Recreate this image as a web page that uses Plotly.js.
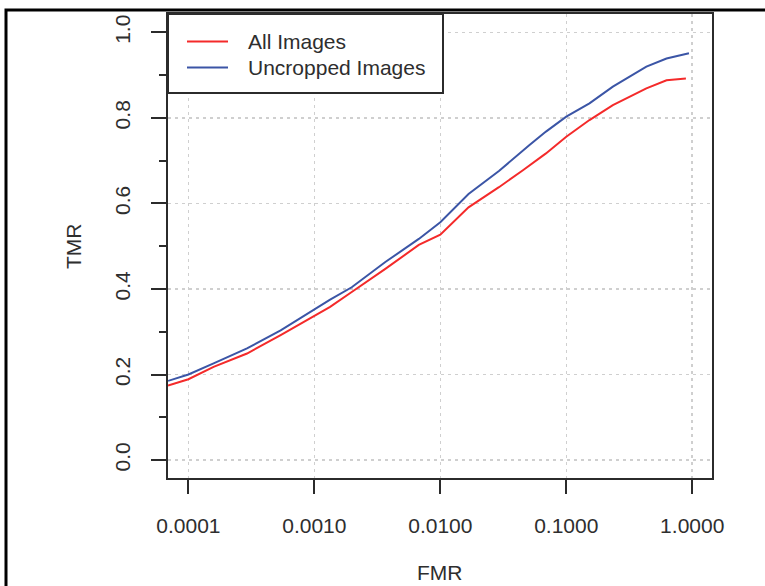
<!DOCTYPE html>
<html>
<head>
<meta charset="utf-8">
<script src="https://cdn.plot.ly/plotly-3.0.1.min.js"></script>
<style>html,body{margin:0;padding:0;background:#fff;}#chart{width:765px;height:586px;}</style>
</head>
<body>
<div id="chart"></div>
<script>
// FMR (x, log scale) and TMR (y) values
const fmrAll = [6.89e-5, 1e-4, 1.585e-4, 2.92e-4, 5.40e-4, 1e-3, 1.334e-3, 1.98e-3, 3.66e-3, 6.75e-3, 1e-2, 0.01675, 0.0292, 0.045, 0.069, 0.1, 0.1528, 0.2344, 0.4325, 0.625, 0.891];
const tmrAll = [0.174, 0.189, 0.218, 0.249, 0.292, 0.338, 0.358, 0.393, 0.447, 0.503, 0.527, 0.591, 0.638, 0.677, 0.717, 0.756, 0.795, 0.830, 0.869, 0.888, 0.892];
const fmrUncropped = [6.89e-5, 1e-4, 1.585e-4, 2.92e-4, 5.40e-4, 1e-3, 1.334e-3, 1.98e-3, 3.66e-3, 6.75e-3, 1e-2, 0.01675, 0.0292, 0.0508, 0.069, 0.1, 0.1528, 0.2344, 0.4325, 0.625, 0.942];
const tmrUncropped = [0.185, 0.200, 0.226, 0.261, 0.303, 0.352, 0.375, 0.404, 0.463, 0.517, 0.556, 0.622, 0.676, 0.736, 0.768, 0.803, 0.834, 0.873, 0.920, 0.939, 0.951];
const seriesNames = ["All Images", "Uncropped Images"];
const seriesColors = ["#f42a2a", "#3b55a6"];
const xTickVals = [1e-4, 1e-3, 1e-2, 1e-1, 1];
const xTickText = ["0.0001", "0.0010", "0.0100", "0.1000", "1.0000"];
const yTickVals = [0, 0.2, 0.4, 0.6, 0.8, 1.0];
const yTickText = ["0.0", "0.2", "0.4", "0.6", "0.8", "1.0"];

const font = {family: "Liberation Sans, Arial, sans-serif", size: 21, color: "#2e2e2e"};
const axisColor = "#2b2b2b";

const traces = [
  {x: fmrAll, y: tmrAll, name: seriesNames[0], type: "scatter", mode: "lines", line: {color: seriesColors[0], width: 2}, showlegend: false},
  {x: fmrUncropped, y: tmrUncropped, name: seriesNames[1], type: "scatter", mode: "lines", line: {color: seriesColors[1], width: 2}, showlegend: false}
];

// pixel helpers for paper-referenced decorations
const L = 168, R = 712, T = 14, B = 478;
const px = v => (v - L) / (R - L);
const py = v => (B - v) / (B - T);

const layout = {
  width: 765, height: 586,
  margin: {l: L, r: 765 - R, t: T, b: 586 - B},
  paper_bgcolor: "#fff", plot_bgcolor: "#fff",
  font: font,
  showlegend: false,
  xaxis: {
    type: "log", range: [-4.162, 0.157],
    tickvals: xTickVals, ticktext: xTickText,
    ticks: "outside", ticklen: 14, tickwidth: 2, tickcolor: axisColor,
    ticklabelstandoff: 14,
    showline: true, mirror: true, linecolor: axisColor, linewidth: 2,
    showgrid: true, gridcolor: "#cfcfcf", griddash: "3px,4px", gridwidth: 1.5,
    zeroline: false, tickfont: font
  },
  yaxis: {
    range: [-0.042, 1.043],
    tickvals: yTickVals, ticktext: yTickText, tickangle: -90,
    ticks: "outside", ticklen: 15, tickwidth: 2, tickcolor: axisColor,
    ticklabelstandoff: 13,
    minor: {tickvals: [0.1, 0.3, 0.5, 0.7, 0.9], ticks: "outside", ticklen: 7, tickwidth: 2, tickcolor: axisColor, showgrid: false},
    showline: true, mirror: true, linecolor: axisColor, linewidth: 2,
    showgrid: true, gridcolor: "#cfcfcf", griddash: "3px,4px", gridwidth: 1.5,
    zeroline: false, tickfont: font
  },
  shapes: [
    // outer frame
    {type: "rect", xref: "paper", yref: "paper", x0: px(6), x1: px(820), y0: py(640), y1: py(10), line: {color: "#000", width: 3}, layer: "above"},
    // legend box
    {type: "rect", xref: "paper", yref: "paper", x0: 0, x1: px(443), y0: py(93), y1: 1, fillcolor: "#fff", line: {color: axisColor, width: 2}, layer: "above"},
    {type: "line", xref: "paper", yref: "paper", x0: px(187), x1: px(228), y0: py(41.5), y1: py(41.5), line: {color: seriesColors[0], width: 2}, layer: "above"},
    {type: "line", xref: "paper", yref: "paper", x0: px(187), x1: px(228), y0: py(67.5), y1: py(67.5), line: {color: seriesColors[1], width: 2}, layer: "above"}
  ],
  annotations: [
    {xref: "paper", yref: "paper", x: px(246), y: py(41.5), text: seriesNames[0], showarrow: false, xanchor: "left", yanchor: "middle", font: font},
    {xref: "paper", yref: "paper", x: px(246), y: py(67.5), text: seriesNames[1], showarrow: false, xanchor: "left", yanchor: "middle", font: font},
    {xref: "paper", yref: "paper", x: 0.5, y: py(572), text: "FMR", showarrow: false, xanchor: "center", yanchor: "middle", font: font},
    {xref: "paper", yref: "paper", x: px(73), y: 0.5, text: "TMR", textangle: -90, showarrow: false, xanchor: "center", yanchor: "middle", font: font}
  ]
};

Plotly.newPlot("chart", traces, layout, {displayModeBar: false, staticPlot: true});
</script>
</body>
</html>
